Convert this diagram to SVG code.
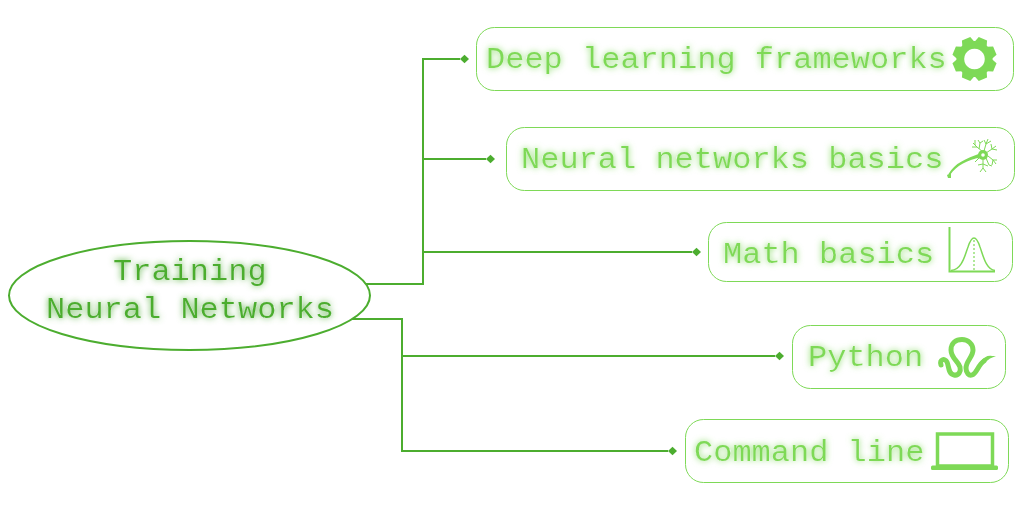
<svg xmlns="http://www.w3.org/2000/svg" width="1024" height="511" viewBox="0 0 1024 511">
<style>
text{font-family:"Liberation Mono",monospace;font-size:29px;filter:url(#glow);stroke:#fff;stroke-width:.1px}
.n text{fill:#7ed957}
.box{fill:#fff;stroke:#7ed957;stroke-width:1}
.conn{fill:none;stroke:#4cad2f;stroke-width:2;marker-end:url(#dia)}
.ic{fill:#7ed957}
.ics{fill:none;stroke:#7ed957}
</style>
<defs>
<filter id="glow" x="-10%" y="-30%" width="120%" height="160%"><feGaussianBlur in="SourceGraphic" stdDeviation="3" result="b"/><feComponentTransfer in="b" result="c"><feFuncA type="linear" slope="1"/></feComponentTransfer><feMerge><feMergeNode in="c"/><feMergeNode in="SourceGraphic"/></feMerge></filter>
<marker id="dia" markerUnits="userSpaceOnUse" markerWidth="10" markerHeight="10" refX="0" refY="5" orient="auto"><path d="M0 5L4.500 .8L9 5L4.500 9.200Z" fill="#4cad2f"/></marker>
<path id="tooth" d="M-6.500-16L-4.500-22H4.500L6.500-16Z"/>
</defs>
<rect width="1024" height="511" fill="#fff"/>
<g id="connectors">
<path class="conn" d="M366 284H423V59H460"/>
<path class="conn" d="M423 159H486"/>
<path class="conn" d="M423 252H692"/>
<path class="conn" d="M352 319H402V356H775"/>
<path class="conn" d="M402 356V451H668"/>
</g>
<g id="root"><ellipse cx="189.500" cy="295.500" rx="180.500" ry="54.500" fill="none" stroke="#4cad2f" stroke-width="2"/>
<text x="113" y="280" fill="#4cad2f" textLength="153.600" lengthAdjust="spacingAndGlyphs">Training</text>
<text x="46" y="317.500" fill="#4cad2f" textLength="288" lengthAdjust="spacingAndGlyphs">Neural Networks</text></g>
<g id="n1" class="n"><rect class="box" x="476.500" y="27.500" width="537" height="63" rx="18"/>
<text x="486" y="68" textLength="460.800" lengthAdjust="spacingAndGlyphs">Deep learning frameworks</text>
<g class="ic" transform="translate(974.500 59)"><path fill-rule="evenodd" d="M0-18a18 18 0 1 0 .01 0ZM0-10.300a10.300 10.300 0 1 1-.01 0Z"/>
<use href="#tooth" transform="rotate(22.500)"/><use href="#tooth" transform="rotate(67.500)"/><use href="#tooth" transform="rotate(112.500)"/><use href="#tooth" transform="rotate(157.500)"/><use href="#tooth" transform="rotate(202.500)"/><use href="#tooth" transform="rotate(247.500)"/><use href="#tooth" transform="rotate(292.500)"/><use href="#tooth" transform="rotate(337.500)"/></g></g>
<g id="n2" class="n"><rect class="box" x="506.500" y="127.500" width="508" height="63" rx="18"/>
<text x="521" y="168" textLength="422.400" lengthAdjust="spacingAndGlyphs">Neural networks basics</text>
<path class="ic" d="M948.500 174C955 163 965 159 981 153L982 157C967 160 957 165 950 175Z"/>
<circle class="ic" cx="983" cy="155" r="5"/><circle cx="983" cy="155" r="1.800" fill="#fff"/>
<path class="ics" stroke-width="1" d="M983 152L977 147L973 143M977 147L972 147M975 145L975 140M979 149L980 143L978 140M980 143L983 141M984 151L986 144L988 139M986 144L991 141M986 144L984 140M986 153L992 149L996 146M992 149L997 150M992 149L991 144M988 156L993 160L997 160M993 160L996 164M993 160L992 165M986 158L989 165L992 166M983 160L983 168L980 172M983 168L986 172M983 164L978 165M983 164L988 166M979 158L975 162M979 158L974 157"/>
<path class="ic" d="M947 175L951 173L951 178L948 178Z"/></g>
<g id="n3" class="n"><rect class="box" x="708.500" y="222.500" width="304" height="59" rx="18"/>
<text x="723" y="263" textLength="211.200" lengthAdjust="spacingAndGlyphs">Math basics</text>
<path class="ics" stroke-width="2" d="M949.500 227V271.500H995"/>
<path class="ics" stroke-width="1.500" d="M951 270.500C962 270 965 255 968 247C970 241 972 238 974 238C976 238 978 241 980 247C983 255 986 270 995 270.500"/>
<path class="ics" stroke-width="1.200" stroke-dasharray="2 2" d="M974 240V271"/></g>
<g id="n4" class="n"><rect class="box" x="792.500" y="325.500" width="213" height="63" rx="18"/>
<text x="808" y="366" textLength="115.200" lengthAdjust="spacingAndGlyphs">Python</text>
<path class="ics" stroke-width="5" stroke-linecap="round" d="M941 365C939 359 945 358 947 362C949 366 948 374 954 375C959 376 961 371 960 367C958 361 951 358 951 350C951 343 956 339.500 962 339.500C968 339.500 973 344 973 350C973 357 966 361 966 368C966 373 969 376 972 375C977 373 978 365 984 361"/>
<path class="ic" d="M981 361C984 357 988 355 992 356L996 356L990 358.500C987 361 984 363 981 365Z"/></g>
<g id="n5" class="n"><rect class="box" x="685.500" y="419.500" width="323" height="63" rx="18"/>
<text x="694" y="461" textLength="230.400" lengthAdjust="spacingAndGlyphs">Command line</text>
<path class="ics" stroke-width="3.500" d="M937.500 434H992.500V466H937.500Z"/>
<rect class="ic" x="931" y="465.500" width="67" height="4.500" rx="1.500"/></g>
</svg>
